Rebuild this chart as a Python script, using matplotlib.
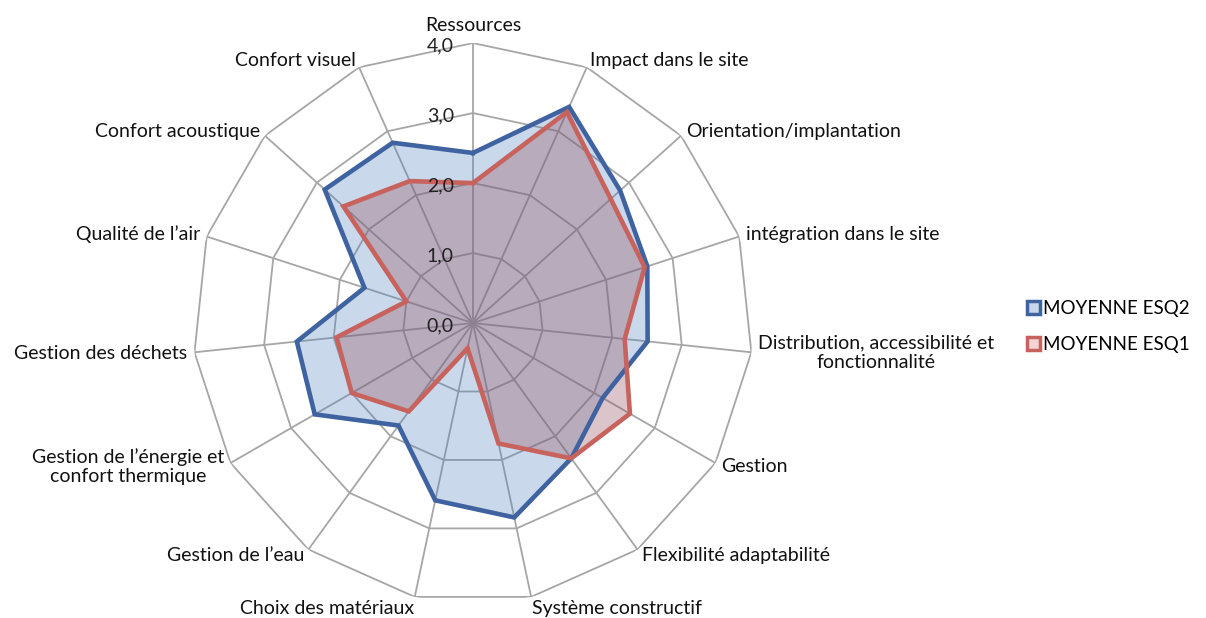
import numpy as np
import matplotlib
matplotlib.use("Agg")
from matplotlib import pyplot as plt
from matplotlib.patches import Patch
from matplotlib import transforms

plt.rcParams['font.family'] = ['Lato', 'DejaVu Sans']

categories = [
    "Ressources", "Impact dans le site", "Orientation/implantation",
    "intégration dans le site", "Distribution, accessibilité et\nfonctionnalité",
    "Gestion", "Flexibilité adaptabilité", "Système constructif",
    "Choix des matériaux", "Gestion de l\u2019eau",
    "Gestion de l\u2019énergie et\nconfort thermique", "Gestion des déchets",
    "Qualité de l\u2019air", "Confort acoustique", "Confort visuel",
]
esq2 = [2.43, 3.38, 2.83, 2.62, 2.51, 2.14, 2.39, 2.84, 2.59, 1.81, 2.61, 2.53, 1.63, 2.85, 2.82]
esq1 = [2.0, 3.3, 2.65, 2.58, 2.18, 2.59, 2.39, 1.76, 0.37, 1.56, 2.0, 1.96, 1.0, 2.49, 2.22]
series_names = ["MOYENNE ESQ2", "MOYENNE ESQ1"]
rings = [0, 1, 2, 3, 4]
ring_labels = ["0,0", "1,0", "2,0", "3,0", "4,0"]

blue_edge = "#3F62A0"
red_edge = "#C8625C"
grid_col = "#A6A6A6"

n = len(categories)
angles = np.linspace(0, 2 * np.pi, n, endpoint=False)
closed = np.append(angles, angles[0])

fig = plt.figure(figsize=(12.06, 6.18), dpi=100)
ax = fig.add_axes([0.16, 0.0243, 0.4643, 0.906], projection='polar')
ax.set_theta_zero_location('N')
ax.set_theta_direction(-1)
ax.set_ylim(0, 4)
ax.set_axis_off()

# polygon grid
for r in rings[1:]:
    ax.plot(closed, [r] * (n + 1), color=grid_col, lw=1.3, zorder=1)
for a in angles:
    ax.plot([a, a], [0, 4], color=grid_col, lw=1.3, zorder=1)

# series
v2 = np.append(esq2, esq2[0])
v1 = np.append(esq1, esq1[0])
ax.fill(closed, v2, color="#4F81BD", alpha=0.30, lw=0, zorder=2)
ax.fill(closed, v1, color="#94505E", alpha=0.33, lw=0, zorder=3)
ax.plot(closed, v2, color=blue_edge, lw=3.3, zorder=4, solid_joinstyle='miter')
ax.plot(closed, v1, color=red_edge, lw=3.3, zorder=5, solid_joinstyle='miter')

# ring value labels
for r, lab in zip(rings, ring_labels):
    off = transforms.offset_copy(ax.transData, fig=fig, x=-19, y=-3, units='dots')
    ax.text(0, r, lab, transform=off, ha='right', va='center', fontsize=14, color='#222222', zorder=6)

# category labels
for a, lab in zip(angles, categories):
    s, c = np.sin(a), np.cos(a)
    if abs(s) < 0.05:
        ha = 'center'
    elif s > 0:
        ha = 'left'
    else:
        ha = 'right'
    if c > 0.95:
        va = 'bottom'
        dist = 9
    elif c < -0.95:
        va = 'top'
        dist = 3
    else:
        va = 'center'
        dist = 7
    off = transforms.offset_copy(ax.transData, fig=fig, x=dist * s, y=dist * c, units='dots')
    ax.text(a, 4, lab, transform=off, ha=ha, va=va, fontsize=14,
            color='#111111', multialignment='center')

handles = [
    Patch(facecolor="#C9D6EA", edgecolor=blue_edge, lw=2.5, label=series_names[0]),
    Patch(facecolor="#F2D6D4", edgecolor=red_edge, lw=2.5, label=series_names[1]),
]
fig.legend(handles=handles, loc='center left', bbox_to_anchor=(0.845, 0.472),
           frameon=False, fontsize=13.5, handlelength=0.7, handleheight=0.7,
           handletextpad=0.2, labelspacing=1.0, borderaxespad=0.0)

fig.savefig("out.png", dpi=100, facecolor='white')
